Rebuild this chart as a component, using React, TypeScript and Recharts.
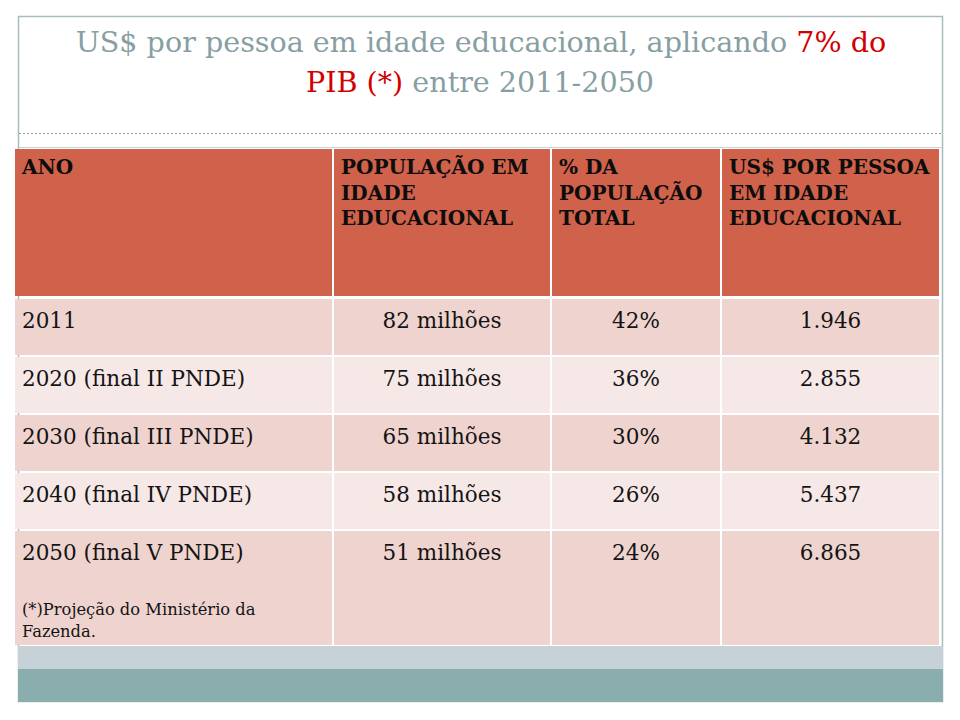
import { ComposedChart, Bar, XAxis, YAxis, Customized } from "recharts"

const ANOS = [
  "2011",
  "2020 (final II PNDE)",
  "2030 (final III PNDE)",
  "2040 (final IV PNDE)",
  "2050 (final V PNDE)",
]
const POPULACAO = ["82 milhões", "75 milhões", "65 milhões", "58 milhões", "51 milhões"]
const PERCENTUAL = ["42%", "36%", "30%", "26%", "24%"]
const US_POR_PESSOA = ["1.946", "2.855", "4.132", "5.437", "6.865"]

const HEADERS = [
  ["ANO"],
  ["POPULAÇÃO EM", "IDADE", "EDUCACIONAL"],
  ["% DA", "POPULAÇÃO", "TOTAL"],
  ["US$ POR PESSOA", "EM IDADE", "EDUCACIONAL"],
]
const NOTA = ["(*)Projeção do Ministério da", "Fazenda."]

const TITULO_1 = [
  { text: "US$ por pessoa em idade educacional, aplicando ", red: false },
  { text: "7% do", red: true },
]
const TITULO_2 = [
  { text: "PIB (*)", red: true },
  { text: " entre 2011-2050", red: false },
]

// layout
const COL_W = [319, 218, 170, 219]
const TABLE_LEFT = 14
const FONT = "'DejaVu Serif', serif"
const HEADER_FILL = "#D0624B"
const ROW_DARK = "#EFD3CF"
const ROW_LIGHT = "#F6E8E7"
const GREY = "#879FA3"
const RED = "#D20000"

const colLeft = (i: number) => TABLE_LEFT + COL_W.slice(0, i).reduce((a, b) => a + b, 0)

const rows = [
  ...ANOS.map((ano, i) => ({
    row: ano,
    cells: [ano, POPULACAO[i], PERCENTUAL[i], US_POR_PESSOA[i]],
    c0: COL_W[0],
    c1: COL_W[1],
    c2: COL_W[2],
    c3: COL_W[3],
  })),
  { row: "nota", cells: ["", "", "", ""], c0: COL_W[0], c1: COL_W[1], c2: COL_W[2], c3: COL_W[3] },
]

const makeCell = (col: number) => (props: any) => {
  const { x, y, width, height, index, payload } = props
  const isNote = index === ANOS.length
  const tone = isNote ? ANOS.length - 1 : index
  const fill = tone % 2 === 0 ? ROW_DARK : ROW_LIGHT
  const top = isNote ? y - 2 : y + 1
  const h = isNote ? height + 1 : height - 2
  return (
    <g>
      <rect x={x + 1} y={top} width={width - 2} height={h} fill={fill} />
      {!isNote && (
        <text
          x={col === 0 ? x + 8 : x + width / 2}
          y={y + 30}
          textAnchor={col === 0 ? "start" : "middle"}
          fontFamily={FONT}
          fontSize={21.5}
          fill="#141414"
        >
          {payload.cells[col]}
        </text>
      )}
      {isNote && col === 0 &&
        NOTA.map((line, k) => (
          <text key={k} x={x + 8} y={y + 27 + k * 22} fontFamily={FONT} fontSize={16.3} fill="#141414">
            {line}
          </text>
        ))}
    </g>
  )
}

function Decor() {
  return (
    <g>
      <rect x={18.5} y={16.5} width={924} height={685} fill="none" stroke="#A9BBBE" strokeWidth={1.5} />
      <line x1={19} x2={942} y1={133.5} y2={133.5} stroke="#8E9A9C" strokeDasharray="2 2" />
      <line x1={19} x2={942} y1={147.5} y2={147.5} stroke="#CAD5D8" />
      <text x={481} y={52} textAnchor="middle" fontFamily={FONT} fontSize={28.6}>
        {TITULO_1.map((p, i) => (
          <tspan key={i} fill={p.red ? RED : GREY}>{p.text}</tspan>
        ))}
      </text>
      <text x={480} y={92} textAnchor="middle" fontFamily={FONT} fontSize={28.6}>
        {TITULO_2.map((p, i) => (
          <tspan key={i} fill={p.red ? RED : GREY}>{p.text}</tspan>
        ))}
      </text>
      {HEADERS.map((lines, i) => (
        <g key={i}>
          <rect x={colLeft(i) + 1} y={149} width={COL_W[i] - 2} height={147} fill={HEADER_FILL} />
          {lines.map((l, k) => (
            <text
              key={k}
              x={colLeft(i) + 8}
              y={174 + k * 25.5}
              fontFamily={FONT}
              fontWeight="bold"
              fontSize={20}
              fill="#0d0d0d"
            >
              {l}
            </text>
          ))}
        </g>
      ))}
      <rect x={18} y={646} width={925} height={23} fill="#C6D2D8" />
      <rect x={18} y={669} width={925} height={33} fill="#8AADAE" />
    </g>
  )
}

export default function App() {
  const total = COL_W.reduce((a, b) => a + b, 0)
  return (
    <div style={{ position: "absolute", left: 0, top: 0, width: 960, height: 720, background: "#fff" }}>
      <ComposedChart
        width={960}
        height={720}
        layout="vertical"
        data={rows}
        margin={{ top: 298, right: 20, bottom: 74, left: TABLE_LEFT }}
        barCategoryGap={0}
      >
        <Customized component={Decor} />
        <XAxis type="number" hide domain={[0, total]} />
        <YAxis type="category" dataKey="row" hide />
        {COL_W.map((_, i) => (
          <Bar
            key={i}
            dataKey={`c${i}`}
            stackId="t"
            shape={makeCell(i)}
            isAnimationActive={false}
          />
        ))}
      </ComposedChart>
    </div>
  )
}
